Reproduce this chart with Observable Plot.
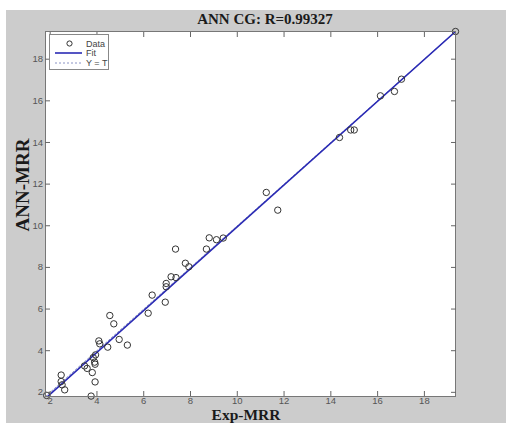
<!DOCTYPE html>
<html><head><meta charset="utf-8">
<script src="https://cdn.jsdelivr.net/npm/d3@7"></script>
<script src="https://cdn.jsdelivr.net/npm/@observablehq/plot@0.6"></script>
<style>
body{margin:0;background:#fff;width:506px;height:423px;overflow:hidden;position:relative;font-family:"Liberation Sans",Arial,sans-serif}
#bg{position:absolute;left:6px;top:10px;width:500px;height:413px;background:#cccccc}
#chart{position:absolute;left:0;top:0}
.lbl{position:absolute;font-family:"Liberation Serif","Times New Roman",serif;font-weight:bold;color:#1a1a1a;white-space:nowrap;line-height:1}
#legend{position:absolute;left:49px;top:34px;width:60px;height:36px;background:#fff;border:1px solid #888;box-sizing:border-box}
</style></head><body>
<div id="bg"></div>
<div id="chart"></div>
<div class="lbl" style="left:0;width:530px;text-align:center;top:12px;font-size:15px">ANN CG: R=0.99327</div>
<div class="lbl" style="left:0;width:492px;text-align:center;top:407px;font-size:15.5px">Exp-MRR</div>
<div class="lbl" style="left:22px;top:185px;font-size:19px;transform:translate(-50%,-50%) rotate(-90deg)">ANN-MRR</div>
<div id="legend"></div>
<script>
// Targets (Exp-MRR) and outputs (ANN-MRR)
const expMRR = [1.85, 2.47, 2.47, 2.51, 2.62, 3.47, 3.58, 3.75, 3.80, 3.92, 3.92, 3.90, 3.84, 3.94, 4.08, 4.12, 4.46, 4.55, 4.72, 4.95, 5.30, 6.19, 6.36, 6.92, 6.96, 6.96, 7.17, 7.38, 7.36, 7.78, 7.93, 8.68, 8.80, 9.11, 9.40, 11.24, 11.73, 14.37, 14.85, 15.00, 16.12, 16.72, 17.02, 19.33];
const annMRR = [1.85, 2.83, 2.52, 2.36, 2.12, 3.27, 3.15, 1.82, 2.95, 2.50, 3.35, 3.45, 3.67, 3.80, 4.47, 4.33, 4.17, 5.69, 5.29, 4.54, 4.27, 5.80, 6.67, 6.33, 7.07, 7.23, 7.55, 7.51, 8.88, 8.20, 8.03, 8.88, 9.42, 9.33, 9.41, 11.60, 10.75, 14.24, 14.60, 14.60, 16.24, 16.45, 17.04, 19.33];
const axisLimits = [1.8, 19.33];
const tickValues = [2, 4, 6, 8, 10, 12, 14, 16, 18];
const fitSlope = 1.005;
const fitIntercept = -0.1;
const legendLabels = ["Data", "Fit", "Y = T"];

const points = expMRR.map((t, i) => ({t, y: annMRR[i]}));
const identity = axisLimits.map(v => ({t: v, y: v}));
const fit = axisLimits.map(v => ({t: v, y: fitSlope * v + fitIntercept}));

const fitColor = "#2a2ab4";
const idColor = "#8a93c4";

const plot = Plot.plot({
  width: 506, height: 423,
  marginLeft: 45, marginTop: 31, marginRight: 51, marginBottom: 27,
  style: {background: "transparent", fontSize: "9.5px", fontFamily: "'Liberation Sans', Arial, sans-serif", color: "#555"},
  x: {domain: axisLimits},
  y: {domain: axisLimits},
  marks: [
    Plot.frame({fill: "white", stroke: null}),
    Plot.line(identity, {x: "t", y: "y", stroke: idColor, strokeWidth: 1, strokeDasharray: "2,2", clip: true}),
    Plot.line(fit, {x: "t", y: "y", stroke: fitColor, strokeWidth: 1.6, clip: true}),
    Plot.dot(points, {x: "t", y: "y", r: 3.2, stroke: "#333", strokeWidth: 1, fill: "none"}),
    Plot.frame({stroke: "#777", strokeWidth: 1}),
    Plot.axisX({anchor: "bottom", ticks: tickValues, tickSize: -5, tickPadding: 5.5, label: null, stroke: "#666", fill: "#555"}),
    Plot.axisX({anchor: "top", ticks: tickValues, tickSize: -5, tickFormat: () => "", label: null, stroke: "#666"}),
    Plot.axisY({anchor: "left", ticks: tickValues, tickSize: -5, tickPadding: 7.5, label: null, stroke: "#666", fill: "#555"}),
    Plot.axisY({anchor: "right", ticks: tickValues, tickSize: -5, tickFormat: () => "", label: null, stroke: "#666"})
  ]
});
document.getElementById("chart").appendChild(plot);

// legend
const lg = d3.select("#legend").append("svg").attr("width", 58).attr("height", 34)
  .style("font-family", "'Liberation Sans', Arial, sans-serif").style("font-size", "9px");
const rows = [8.5, 18, 28];
lg.append("circle").attr("cx", 19.5).attr("cy", rows[0]).attr("r", 2.6).attr("fill", "none").attr("stroke", "#333");
lg.append("line").attr("x1", 5).attr("x2", 32).attr("y1", rows[1]).attr("y2", rows[1]).attr("stroke", fitColor).attr("stroke-width", 1.6);
lg.append("line").attr("x1", 5).attr("x2", 32).attr("y1", rows[2]).attr("y2", rows[2]).attr("stroke", idColor).attr("stroke-dasharray", "2,2");
legendLabels.forEach((s, i) => lg.append("text").attr("x", 36).attr("y", rows[i] + 3.2).attr("fill", "#444").text(s));
</script>
</body></html>
